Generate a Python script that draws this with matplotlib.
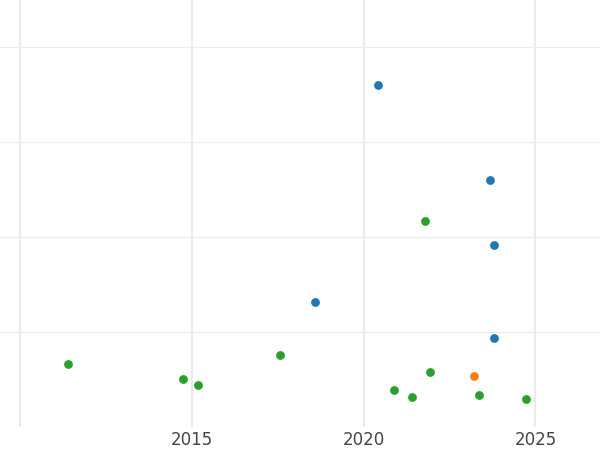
import matplotlib
matplotlib.use("Agg")
import matplotlib.pyplot as plt

# year of each point and its value, grouped by colour
blue_x = [2020.42, 2023.69, 2023.80, 2018.57, 2023.80]
blue_y = [3.60, 2.60, 1.92, 1.32, 0.94]

green_x = [2011.40, 2014.75, 2015.18, 2017.56, 2021.78, 2021.94,
           2020.89, 2021.42, 2023.37, 2024.73]
green_y = [0.66, 0.51, 0.44, 0.76, 2.17, 0.58, 0.39, 0.32, 0.34, 0.30]

orange_x = [2023.20]
orange_y = [0.54]

x_ticks = [2010, 2015, 2020, 2025]
x_labels = ['', '2015', '2020', '2025']
y_ticks = [1, 2, 3, 4]

fig = plt.figure(figsize=(6, 4.5), dpi=100)
ax = fig.add_axes([0, 23 / 450, 1, 427 / 450])

ax.scatter(blue_x, blue_y, s=40, color='#1f77b4', linewidths=0, zorder=3)
ax.scatter(green_x, green_y, s=40, color='#2ca02c', linewidths=0, zorder=3)
ax.scatter(orange_x, orange_y, s=40, color='#ff7f0e', linewidths=0, zorder=3)

ax.set_xlim(2009.41, 2026.88)
ax.set_ylim(0, 4.495)
ax.set_xticks(x_ticks)
ax.set_xticklabels(x_labels)
ax.set_yticks(y_ticks)
ax.set_yticklabels([])

ax.grid(axis='x', color='#ebebeb', lw=1.5)
ax.grid(axis='y', color='#ebebeb', lw=0.8)
ax.set_axisbelow(True)
for s in ax.spines.values():
    s.set_visible(False)
ax.tick_params(length=0, labelsize=12, labelcolor='#444444', pad=3)

fig.savefig('out.png', dpi=100)
